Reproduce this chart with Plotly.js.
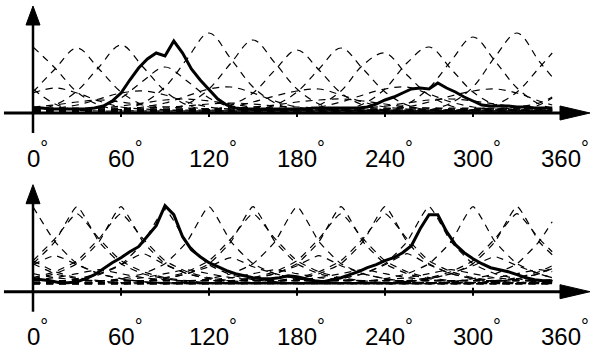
<!DOCTYPE html>
<html><head><meta charset="utf-8">
<script src="https://cdn.plot.ly/plotly-3.0.1.min.js"></script>
<style>html,body{margin:0;padding:0;background:#fff}#chart{width:590px;height:349px}</style>
</head><body><div id="chart"></div>
<script>
// ---- data ----
const tickVals = [0, 60, 120, 180, 240, 300, 360];
const tickLabels = ['0', '60', '120', '180', '240', '300', '360'];

const gridAngles = [0,15,30,45,60,75,90,105,120,135,150,165,180,195,210,225,240,255,270,285,300,315,330,345,354];
const fineAngles = [0,6,12,18,24,30,36,42,48,54,60,66,72,78,84,90,96,102,108,114,120,126,132,138,144,150,156,162,168,174,180,186,192,198,204,210,216,222,228,234,240,246,252,258,264,270,276,282,288,294,300,306,312,318,324,330,336,342,348,354];

// top panel: population response (solid) and tuning curves (dashed)
const topSolid = [5,5,4,4,4,4,4,5,7,12, 20,33,45,54,60,57,72,60,44,33, 23,14,8,5,4,4,4,4,4,4, 4,4,5,5,5,5,5,5,6,9, 13,16,20,24,25,24,30,25,21,16, 12,8,7,7,7,6,6,5,5,5];

const topT0   = [66,45,21,8,3,2,2,2,2,2,2,2,2,2,2,2,2,2,2,2,3,8,21,45,60];
const topT30  = [21,44,65,44,21,8,3,2,2,2,2,2,2,2,2,2,2,2,2,2,2,2,3,8,15];
const topT60  = [3,8,22,46,68,46,22,8,3,2,2,2,2,2,2,2,2,2,2,2,2,2,2,2,3];
const topT90  = [2,2,3,6,15,32,46,32,15,6,3,2,2,2,2,2,2,2,2,2,2,2,2,2,2];
const topT120 = [2,2,2,2,3,10,26,54,80,54,26,10,3,2,2,2,2,2,2,2,2,2,2,2,2];
const topT150 = [2,2,2,2,2,2,3,9,24,50,73,50,24,9,3,2,2,2,2,2,2,2,2,2,2];
const topT180 = [2,2,2,2,2,2,2,2,3,8,20,43,63,43,20,8,3,2,2,2,2,2,2,2,2];
const topT210 = [2,2,2,2,2,2,2,2,2,2,3,8,21,44,65,44,21,8,3,2,2,2,2,2,2];
const topT240 = [2,2,2,2,2,2,2,2,2,2,2,2,3,8,22,48,60,38,18,7,3,2,2,2,2];
const topT270 = [2,2,2,2,2,2,2,2,2,2,2,2,2,2,3,9,24,50,66,44,21,8,3,2,2];
const topT300 = [3,2,2,2,2,2,2,2,2,2,2,2,2,2,2,2,3,9,25,52,76,52,25,9,5];
const topT330 = [24,9,3,2,2,2,2,2,2,2,2,2,2,2,2,2,2,2,3,10,26,56,80,52,36];
const topS15  = [20,25,20,12,6,4,3,3,3,3,3,3,3,3,3,3,3,3,3,3,3,4,6,10,16];
const topS75  = [4,5,8,14,20,22,18,11,6,4,3,3,3,3,3,3,3,3,3,3,3,3,3,3,3];
const topS135 = [3,3,3,3,4,6,10,17,24,26,20,12,6,4,3,3,3,3,3,3,3,3,3,3,3];
const topS195 = [3,3,3,3,3,3,3,3,4,6,11,17,22,24,18,11,6,4,3,3,3,3,3,3,3];
const topS255 = [3,3,3,3,3,3,3,3,3,3,3,3,4,6,11,18,24,26,19,11,6,4,3,3,3];
const topS315 = [6,4,3,3,3,3,3,3,3,3,3,3,3,3,3,3,4,6,11,17,22,24,20,12,8];
const topU45  = [6,8,11,13,11,8,6,5,4,4,4,4,4,4,4,4,4,4,4,4,4,4,4,5,6];
const topU105 = [4,4,4,5,7,10,13,14,12,9,6,5,4,4,4,4,4,4,4,4,4,4,4,4,4];
const topU165 = [5,5,5,5,5,5,6,7,9,10,9,7,6,5,5,5,5,5,5,5,5,5,5,5,5];
const topU225 = [4,4,4,4,4,4,4,4,4,5,6,8,11,13,14,12,9,6,5,4,4,4,4,4,4];
const topU285 = [5,4,4,4,4,4,4,4,4,4,4,4,4,4,4,5,7,10,13,14,12,9,6,5,5];

// bottom panel
const bottomSolid = [13,12,11,9,9,10,13,17,23,29, 34,40,45,55,66,86,77,55,42,35, 29,25,21,18,16,14,13,13,14,16, 15,13,11,10,12,14,17,20,24,27, 31,34,39,46,63,77,77,60,47,39, 33,28,24,22,20,17,14,12,11,11];

const botB0   = [85,50,28,18,13,10,8,8,8,8,8,8,8,8,8,8,8,8,8,10,13,18,28,50,70];
const botB30  = [28,50,85,50,28,18,13,10,8,8,8,8,8,8,8,8,8,8,8,8,8,10,13,18,24];
const botB60  = [13,18,28,50,85,50,28,18,13,10,8,8,8,8,8,8,8,8,8,8,8,8,8,10,11];
const botB90  = [8,10,12,17,27,49,82,49,27,17,12,10,8,8,8,8,8,8,8,8,8,8,8,8,8];
const botB120 = [8,8,8,10,13,18,28,50,85,50,28,18,13,10,8,8,8,8,8,8,8,8,8,8,8];
const botB150 = [8,8,8,8,8,10,13,18,28,50,85,50,28,18,13,10,8,8,8,8,8,8,8,8,8];
const botB180 = [8,8,8,8,8,8,8,10,13,18,28,50,85,50,28,18,13,10,8,8,8,8,8,8,8];
const botB210 = [8,8,8,8,8,8,8,8,8,10,13,18,28,50,85,50,28,18,13,10,8,8,8,8,8];
const botB240 = [8,8,8,8,8,8,8,8,8,8,8,10,13,18,28,50,85,50,28,18,13,10,8,8,8];
const botB270 = [8,8,8,8,8,8,8,8,8,8,8,8,8,10,13,18,28,50,85,50,28,18,13,10,9];
const botB300 = [13,10,8,8,8,8,8,8,8,8,8,8,8,8,8,10,13,18,28,50,85,50,28,18,14];
const botB330 = [28,18,13,10,8,8,8,8,8,8,8,8,8,8,8,8,8,10,13,18,28,50,85,50,37];
const botB30b  = [31,53,78,53,31,20,14,11,9,9,9,9,9,9,9,9,9,9,9,9,9,11,14,20,26];
const botB60b  = [14,20,31,53,78,53,31,20,14,11,9,9,9,9,9,9,9,9,9,9,9,9,9,11,12];
const botB150b = [9,9,9,9,9,11,14,20,31,53,78,53,31,20,14,11,9,9,9,9,9,9,9,9,9];
const botB210b = [9,9,9,9,9,9,9,9,9,11,14,20,31,53,78,53,31,20,14,11,9,9,9,9,9];
const botB240b = [9,9,9,9,9,9,9,9,9,9,9,11,14,20,31,53,78,53,31,20,14,11,9,9,9];
const botB330b = [31,20,14,11,9,9,9,9,9,9,9,9,9,9,9,9,9,11,14,20,31,53,78,53,40];
const botS15  = [27,36,27,18,13,10,9,9,9,9,9,9,9,9,9,9,9,9,9,9,9,10,13,18,23];
const botS75  = [9,10,13,18,27,38,27,18,13,10,9,9,9,9,9,9,9,9,9,9,9,9,9,9,9];
const botS135 = [9,9,9,9,9,10,13,18,25,34,25,18,13,10,9,9,9,9,9,9,9,9,9,9,9];
const botS195 = [9,9,9,9,9,9,9,9,9,10,13,18,26,36,26,18,13,10,9,9,9,9,9,9,9];
const botS255 = [9,9,9,9,9,9,9,9,9,9,9,9,9,10,13,18,27,38,27,18,13,10,9,9,9];
const botS315 = [13,10,9,9,9,9,9,9,9,9,9,9,9,9,9,9,9,10,13,18,26,35,26,18,14];
const botL45  = [12,14,18,22,18,14,12,11,11,11,11,11,11,11,11,11,11,11,11,11,11,11,11,11,11];
const botL105 = [11,11,11,11,12,14,18,22,18,14,12,11,11,11,11,11,11,11,11,11,11,11,11,11,11];
const botL165 = [11,11,11,11,11,11,11,11,12,14,18,22,18,14,12,11,11,11,11,11,11,11,11,11,11];
const botL225 = [11,11,11,11,11,11,11,11,11,11,11,11,12,14,18,22,18,14,12,11,11,11,11,11,11];
const botL285 = [11,11,11,11,11,11,11,11,11,11,11,11,11,11,11,11,12,14,18,22,18,14,12,11,11];
const botL345 = [18,14,12,11,11,11,11,11,11,11,11,11,11,11,11,11,11,11,11,11,12,14,18,22,20];

const topDashed = [topT0,topT30,topT60,topT90,topT120,topT150,topT180,topT210,topT240,topT270,topT300,topT330,
  topS15,topS75,topS135,topS195,topS255,topS315,topU45,topU105,topU165,topU225,topU285];
const botDashed = [botB0,botB30,botB60,botB90,botB120,botB150,botB180,botB210,botB240,botB270,botB300,botB330,
  botB30b,botB60b,botB150b,botB210b,botB240b,botB330b,botS15,botS75,botS135,botS195,botS255,botS315,
  botL45,botL105,botL165,botL225,botL285,botL345];

// ---- traces ----
const traces = [];
function dashedTrace(ys, xa, ya, smooth) {
  return {x: gridAngles, y: ys, xaxis: xa, yaxis: ya, mode: 'lines', hoverinfo: 'skip',
    line: {color: '#000', width: 1.2, dash: '7px,6px', shape: 'spline', smoothing: smooth}};
}
topDashed.forEach(ys => traces.push(dashedTrace(ys, 'x', 'y', 1.0)));
botDashed.forEach(ys => traces.push(dashedTrace(ys, 'x2', 'y2', 0.5)));
traces.push({x: fineAngles, y: topSolid, xaxis: 'x', yaxis: 'y', mode: 'lines', hoverinfo: 'skip',
  line: {color: '#000', width: 3}});
traces.push({x: fineAngles, y: bottomSolid, xaxis: 'x2', yaxis: 'y2', mode: 'lines', hoverinfo: 'skip',
  line: {color: '#000', width: 3}});

// ---- axes decorations ----
const shapes = [];
const annotations = [];
const font = {family: 'Arial, "Liberation Sans", sans-serif', size: 24, color: '#000'};
[['x', 'y'], ['x2', 'y2']].forEach(([xa, ya]) => {
  shapes.push({type: 'line', xref: xa, yref: ya, x0: -19.8, x1: 362, y0: 0, y1: 0,
    line: {color: '#000', width: 3}});
  shapes.push({type: 'path', xref: xa, yref: ya, xsizemode: 'pixel', ysizemode: 'pixel',
    xanchor: 360, yanchor: 0, path: 'M -1,-7 L 29,0 L -1,7 Z',
    fillcolor: '#000', line: {color: '#000', width: 1}});
  shapes.push({type: 'line', xref: xa, yref: ya, x0: 0, x1: 0, y0: -20, y1: 90,
    line: {color: '#000', width: 2.5}});
  shapes.push({type: 'path', xref: xa, yref: ya, xsizemode: 'pixel', ysizemode: 'pixel',
    xanchor: 0, yanchor: 88, path: 'M -7,0 L 0,19 L 7,0 Z',
    fillcolor: '#000', line: {color: '#000', width: 1}});
  tickVals.forEach((v, i) => {
    shapes.push({type: 'line', xref: xa, yref: ya, ysizemode: 'pixel', yanchor: 0,
      x0: v, x1: v, y0: -4, y1: 4, line: {color: '#000', width: 2}});
    annotations.push({xref: xa, yref: ya, x: v, y: 0, yshift: -41, xshift: 4, borderpad: 0,
      xanchor: 'center', yanchor: 'middle', showarrow: false,
      text: tickLabels[i] + '<span style="font-size:28px"><sup>°</sup></span>', font: font});
  });
});

const layout = {
  width: 590, height: 349, margin: {l: 0, r: 0, t: 0, b: 0},
  paper_bgcolor: '#fff', plot_bgcolor: '#fff', showlegend: false,
  xaxis: {domain: [0, 1], range: [-22.5, 379.77], visible: false, anchor: 'y'},
  yaxis: {domain: [174/349, 1], range: [-62, 113], visible: false, anchor: 'x'},
  xaxis2: {domain: [0, 1], range: [-22.5, 379.77], visible: false, anchor: 'y2'},
  yaxis2: {domain: [0, 174/349], range: [-57.3, 116.7], visible: false, anchor: 'x2'},
  shapes: shapes, annotations: annotations
};
Plotly.newPlot('chart', traces, layout, {staticPlot: true, displayModeBar: false});
</script>
</body></html>
